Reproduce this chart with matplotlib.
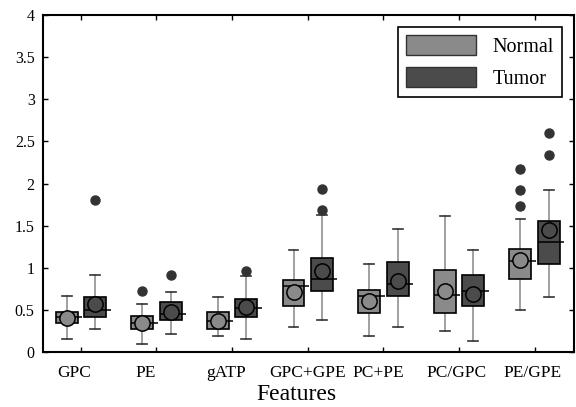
import matplotlib
matplotlib.use("Agg")
import matplotlib.pyplot as plt
from matplotlib.patches import Patch
from matplotlib.transforms import ScaledTranslation

features = ["GPC", "PE", "gATP", "GPC+GPE", "PC+PE", "PC/GPC", "PE/GPE"]
groups = ["Normal", "Tumor"]

# Normal statistics
n_whislo = [0.15, 0.09, 0.19, 0.30, 0.19, 0.25, 0.50]
n_q1     = [0.34, 0.27, 0.27, 0.55, 0.46, 0.46, 0.87]
n_med    = [0.42, 0.35, 0.37, 0.78, 0.66, 0.68, 1.08]
n_q3     = [0.48, 0.43, 0.47, 0.86, 0.74, 0.97, 1.22]
n_whishi = [0.67, 0.57, 0.65, 1.21, 1.05, 1.61, 1.58]
n_mean   = [0.40, 0.35, 0.37, 0.71, 0.61, 0.73, 1.09]
n_fliers = [[], [0.73], [], [], [], [], [1.73, 1.92, 2.17]]

# Tumor statistics
t_whislo = [0.27, 0.21, 0.15, 0.38, 0.30, 0.13, 0.65]
t_q1     = [0.42, 0.38, 0.42, 0.73, 0.67, 0.55, 1.05]
t_med    = [0.50, 0.45, 0.52, 0.87, 0.81, 0.73, 1.31]
t_q3     = [0.65, 0.59, 0.63, 1.11, 1.07, 0.92, 1.55]
t_whishi = [0.92, 0.71, 0.90, 1.63, 1.46, 1.21, 1.92]
t_mean   = [0.57, 0.48, 0.53, 0.96, 0.84, 0.69, 1.45]
t_fliers = [[1.81], [0.91], [0.96], [1.69, 1.94], [], [], [2.34, 2.60]]

yticks = [0, 0.5, 1, 1.5, 2, 2.5, 3, 3.5, 4]

c_normal = "#8a8a8a"
c_tumor = "#4b4b4b"
c_flier = "#333333"

plt.rcParams["font.family"] = ["Liberation Serif", "DejaVu Serif"]

fig = plt.figure(figsize=(5.76, 4.07), dpi=100)
ax = fig.add_axes([0.0747, 0.1351, 0.9218, 0.8280])

off = 0.188
bw = 0.29

def make_stats(wl, q1, md, q3, wh, mn, fl):
    out = []
    for i in range(len(md)):
        out.append(dict(whislo=wl[i], q1=q1[i], med=md[i], q3=q3[i],
                        whishi=wh[i], mean=mn[i], fliers=fl[i]))
    return out

sets = [
    (make_stats(n_whislo, n_q1, n_med, n_q3, n_whishi, n_mean, n_fliers), c_normal, -off, n_med),
    (make_stats(t_whislo, t_q1, t_med, t_q3, t_whishi, t_mean, t_fliers), c_tumor, off, t_med),
]

pos_base = list(range(1, len(features) + 1))
for stats, col, o, meds in sets:
    pos = [p + o for p in pos_base]
    ax.bxp(stats, positions=pos, widths=bw, patch_artist=True,
           showmeans=True, manage_ticks=False, capwidths=0.13,
           boxprops=dict(facecolor=col, edgecolor="black", linewidth=1.2, zorder=3),
           whiskerprops=dict(color="#a0a0a0", linewidth=1.4, zorder=2),
           capprops=dict(color="#333333", linewidth=1.2, zorder=2),
           medianprops=dict(color="black", linewidth=1.1, zorder=4),
           meanprops=dict(marker="o", markersize=11, markerfacecolor=col,
                          markeredgecolor="black", markeredgewidth=1.1, zorder=5),
           flierprops=dict(marker="o", markersize=6.5, markerfacecolor=c_flier,
                           markeredgecolor=c_flier, linestyle="none", zorder=5))
    ax.hlines(meds, [p + bw / 2 for p in pos], [p + bw / 2 + 0.06 for p in pos],
              colors="black", linewidth=1.1, zorder=4)

ax.set_xlim(0.5, 7.52)
ax.set_ylim(0, 4)
ax.set_xticks(pos_base)
ax.set_xticklabels(features, fontsize=12.5)
ax.set_yticks(yticks)
ax.set_yticklabels([f"{v:g}" for v in yticks], fontsize=11.5)
ax.tick_params(direction="in", top=True, right=True, length=3.5, width=1.0)
ax.tick_params(axis="x", pad=9)
ax.tick_params(axis="y", pad=6)
for s in ax.spines.values():
    s.set_linewidth(1.5)

# small horizontal nudges of the tick labels (in pixels at 100 dpi)
label_nudge_px = [-6.5, -11, -6, 0, -5, -3, -2]
for lab, dx in zip(ax.get_xticklabels(), label_nudge_px):
    lab.set_transform(lab.get_transform() + ScaledTranslation(dx / 100, 0, fig.dpi_scale_trans))

ax.set_xlabel("Features", fontsize=17)
ax.xaxis.set_label_coords(0.478, -0.094)

handles = [Patch(facecolor=c_normal, edgecolor="#333333", label="Normal"),
           Patch(facecolor=c_tumor, edgecolor="#333333", label="Tumor")]
leg = ax.legend(handles=handles, loc="upper right", bbox_to_anchor=(0.977, 0.964),
                borderaxespad=0, fontsize=14.5, handlelength=3.5, handleheight=1.15,
                fancybox=False, framealpha=1, edgecolor="black")
leg.get_frame().set_linewidth(1.2)

fig.savefig("out.png", dpi=100)
